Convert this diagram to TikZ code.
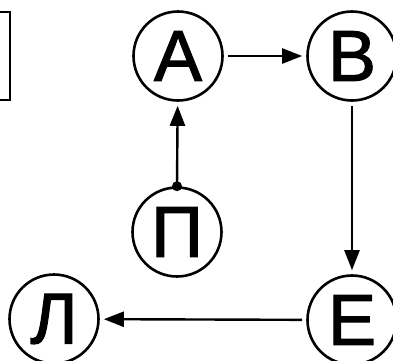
\documentclass[tikz,border=0pt]{standalone}
\usepackage{fontspec}
\setmainfont{Liberation Sans}
\newfontfamily\lettfont{Liberation Sans}[FakeBold=1.6]
\usetikzlibrary{arrows.meta}
\begin{document}
\begin{tikzpicture}[x=1pt,y=-1pt,
  letter/.style={circle,draw,line width=2.6pt,minimum size=89pt,inner sep=0pt,
    font=\lettfont\fontsize{72}{72}\selectfont},
  conn/.style={line width=2.4pt,-{Triangle[length=20pt,width=15pt]},shorten >=4pt,shorten <=4pt},
  framebox/.style={draw,line width=2.6pt,minimum width=40pt,minimum height=88pt,inner sep=0pt}]
\useasboundingbox (0,0) rectangle (393,360);
\clip (0,0) rectangle (393,360);
\node[framebox] (box) at (-10,56) {};
\node[letter] (A) at (178,56) {А};
\node[letter] (B) at (352,56) {В};
\node[letter] (P) at (177,232) {П};
\node[letter] (E) at (352,320) {Е};
\node[letter] (L) at (54,319) {Л};
\draw[conn] (A) -- (B);
\draw[conn] (B) -- (E);
\draw[conn] (E) -- (L);
\draw[conn,shorten <=0pt] (P.north) -- (A);
\fill (P.north) circle (5pt);
\end{tikzpicture}
\end{document}
